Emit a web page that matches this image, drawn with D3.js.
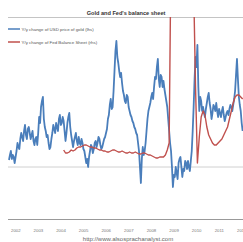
<!DOCTYPE html>
<html>
<head>
<meta charset="utf-8">
<script src="https://cdn.jsdelivr.net/npm/d3@7"></script>
<style>
    body { margin: 0; background: #fff; }
    text { font-family: "Liberation Sans", Arial, sans-serif; }
    .title { font-weight: bold; fill: #333; }
    .legendText { fill: #555; }
    .xLabel { fill: #777; }
    .source { fill: #666; }
</style>
</head>
<body>
<div id="scene"></div>
<script>
// half-month readings, first reading = Sep 2001
const goldStartYear = 2001.7;
const goldYoY = [
    3.5, 6, 8, 4, 6, 5, 2, 5, 8, 12, 10, 9,
    14, 17, 15, 13, 18, 21, 16, 14, 19, 20, 17, 14,
    16, 18, 13, 11, 14, 15, 11, 17, 25, 22, 30, 33,
    35, 24, 20, 18, 15, 16, 12, 9, 10, 14, 17, 21,
    19, 17, 22, 20, 18, 24, 26, 21, 22, 25, 23, 18,
    13, 17, 22, 25, 27, 20, 16, 13, 10, 13, 15, 17,
    13, 11, 15, 12, 11, 14, 12, 9, 8, 5, 2, 4,
    0, 5, 8, 11, 10, 7, 9, 12, 13, 10, 12, 15,
    14, 11, 9, 10, 12, 14, 15, 17, 19, 24, 26, 31,
    34, 29, 30, 38, 48, 58, 63, 55, 52, 48, 45, 47,
    42, 38, 36, 33, 32, 36, 35, 30, 28, 26, 25, 23,
    22, 20, 19, 17, 16, 12, 8, 0, -8, 4, 10, 6,
    8, 12, 18, 24, 28, 30, 32, 35, 37, 34, 40, 45,
    44, 50, 54, 44, 40, 46, 45, 40, 43, 39, 36, 33,
    30, 24, 18, 12, 8, 0, -10, -4, -5, 0, -3, -6,
    2, 4, 5, 0, -5, -1, -2, 3, 2, -1, 3, 0,
    -2, 3, 8, 18, 30, 44, 55, 50, 61, 40, 28, 35,
    33, 28, 30, 27, 25, 29, 32, 35, 37, 32, 29, 24,
    27, 31, 30, 28, 32, 28, 25, 29, 27, 25, 28, 30,
    26, 23, 25, 27, 28, 26, 29, 31, 30, 28, 31, 34,
    38, 46, 54, 44, 35, 31, 28, 22, 18
];

// monthly readings, first month = Feb 2004
const fedStartYear = 2004.117;
const fedYoY = [
    8.5, 7, 7, 7.5, 8.5, 8, 8.5, 9.5, 10, 10, 10.5,
    11, 11, 10.5, 10, 10, 9.5, 9.5, 9, 8.5, 8.5, 8, 8,
    7.5, 7.5, 8, 8.5, 8.5, 8, 7.5, 7.5, 8, 7.5, 7, 7,
    7.5, 7, 7, 7.5, 7, 6.5, 6.5, 7, 7, 6.5, 6, 6,
    5.5, 5, 4.5, 4.5, 5, 5, 5, 6, 8.5, 12, 110, 140,
    145, 150, 148, 145, 140, 135, 130, 120, 110, 100, 90, 40,
    2, 15, 25, 28, 26, 20, 16, 14, 12, 11, 11, 12,
    13, 14, 16, 18, 20, 24, 28, 32, 35, 36, 36, 35, 34
];

const years = [2002, 2003, 2004, 2005, 2006, 2007, 2008, 2009, 2010, 2011, 2012];

const legendLabels = [
    { text: 'Y/y change of USD price of gold (lhs)', color: '#4A7EBB' },
    { text: 'Y/y change of Fed Balance Sheet (rhs)', color: '#C0504D' }
];

const width = 243;
const height = 242;
const plotLeft = 8;
const plotRight = 243;
const plotTop = 17;
const plotBottom = 219;

const svg = d3.select('#scene')
    .append('svg')
    .attr('width', width)
    .attr('height', height);

const xScale = d3.scaleLinear().domain([2001.7, 2012.05]).range([9, 243]);
const yLeft = d3.scaleLinear().domain([-26, 75]).range([plotBottom, plotTop]);
const yRight = d3.scaleLinear().domain([-26, 75]).range([plotBottom, plotTop]);

const goldData = goldYoY.map((v, i) => ({ x: goldStartYear + i / 24, y: v }));
const fedData = fedYoY.map((v, i) => ({ x: fedStartYear + i / 12, y: v }));

svg.append('clipPath')
    .attr('id', 'plotClip')
    .append('rect')
    .attr('x', plotLeft)
    .attr('y', plotTop)
    .attr('width', plotRight - plotLeft)
    .attr('height', plotBottom - plotTop);

// title
svg.append('text')
    .attr('class', 'title')
    .attr('x', 126)
    .attr('y', 15)
    .attr('text-anchor', 'middle')
    .style('font-size', '5.6px')
    .text("Gold and Fed's balance sheet");

svg.append('line')
    .attr('x1', plotLeft)
    .attr('x2', plotRight)
    .attr('y1', plotTop + 0.5)
    .attr('y2', plotTop + 0.5)
    .attr('stroke', '#c4c4c4')
    .attr('stroke-width', 1);

// zero line
svg.append('line')
    .attr('x1', plotLeft)
    .attr('x2', plotRight)
    .attr('y1', yLeft(0))
    .attr('y2', yLeft(0))
    .attr('stroke', '#d0d0d0')
    .attr('stroke-width', 1);

const chart = svg.append('g').attr('clip-path', 'url(#plotClip)');

const goldLine = d3.line()
    .x((d) => xScale(d.x))
    .y((d) => yLeft(d.y));

const fedLine = d3.line()
    .x((d) => xScale(d.x))
    .y((d) => yRight(d.y));

chart.append('path')
    .datum(goldData)
    .attr('d', goldLine)
    .attr('fill', 'none')
    .attr('stroke', '#4A7EBB')
    .attr('stroke-width', 1.8)
    .attr('stroke-linejoin', 'round');

chart.append('path')
    .datum(fedData)
    .attr('d', fedLine)
    .attr('fill', 'none')
    .attr('stroke', '#C0504D')
    .attr('stroke-width', 1.4)
    .attr('stroke-linejoin', 'round');

// bottom axis
svg.append('line')
    .attr('x1', plotLeft)
    .attr('x2', plotRight)
    .attr('y1', plotBottom + 0.5)
    .attr('y2', plotBottom + 0.5)
    .attr('stroke', '#999')
    .attr('stroke-width', 1);

svg.selectAll('.xLabel')
    .data(years)
    .enter().append('text')
    .attr('class', 'xLabel')
    .attr('x', (d) => xScale(d))
    .attr('y', 232)
    .attr('text-anchor', 'middle')
    .style('font-size', '4.3px')
    .text(String);

// legend
legendLabels.forEach((item, idx) => {
    const ly = 29 + idx * 13;
    svg.append('line')
        .attr('x1', 8)
        .attr('x2', 20)
        .attr('y1', ly)
        .attr('y2', ly)
        .attr('stroke', item.color)
        .attr('stroke-width', 1.5);
    svg.append('text')
        .attr('class', 'legendText')
        .attr('x', 21.5)
        .attr('y', ly + 1.6)
        .style('font-size', '4.4px')
        .text(item.text);
});

svg.append('text')
    .attr('class', 'source')
    .attr('x', 128)
    .attr('y', 241)
    .attr('text-anchor', 'middle')
    .style('font-size', '6px')
    .text('http://www.alsosprachanalyst.com');
</script>
</body>
</html>
